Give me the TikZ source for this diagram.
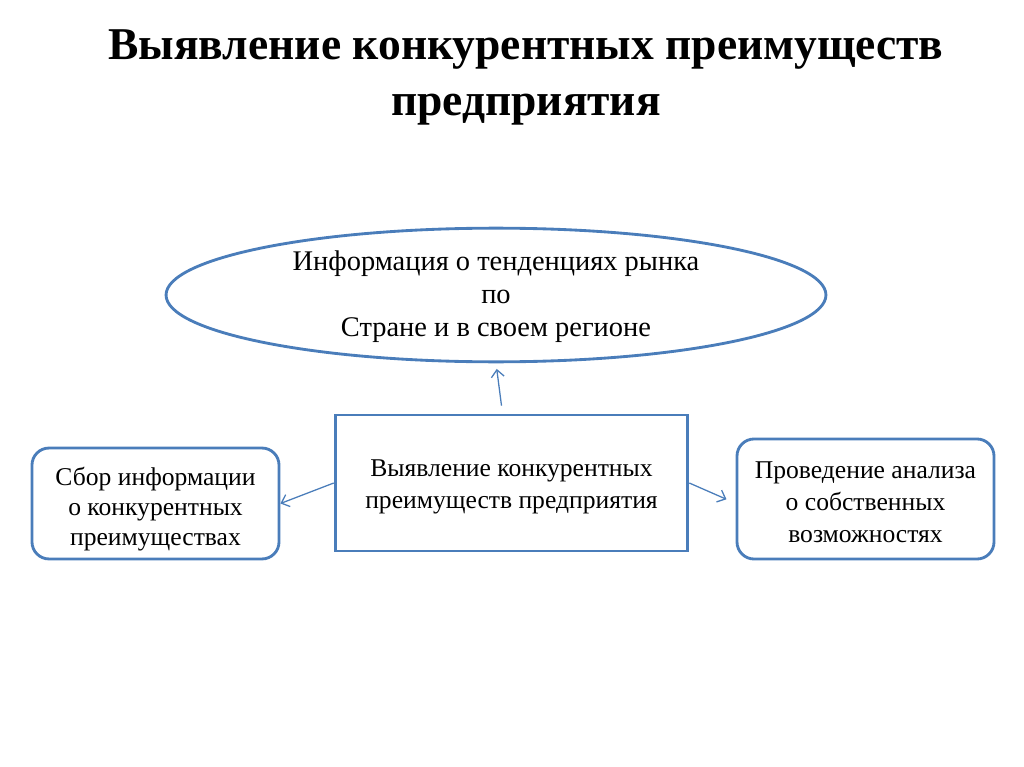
\documentclass[tikz,border=0pt]{standalone}
\usepackage{fontspec}
\setmainfont{Liberation Serif}
\usetikzlibrary{shapes.geometric,arrows.meta}
\definecolor{slideblue}{HTML}{4A7DBA}

\begin{document}
\begin{tikzpicture}[x=0.703125pt,y=-0.703125pt,
  every node/.style={inner sep=0pt,align=center,font=\fontsize{18}{22.5}\selectfont},
  headline/.style={font=\bfseries\fontsize{32}{39.4}\selectfont},
  blob/.style={draw=slideblue,line width=2pt,ellipse,minimum width=464pt,minimum height=94pt},
  mainbox/.style={draw=slideblue,line width=2pt,rectangle,minimum width=248pt,minimum height=95.6pt},
  sidebox/.style={draw=slideblue,line width=2pt,rectangle,rounded corners=12pt},
  conn/.style={draw=slideblue,line width=0.9pt,-{Straight Barb[length=5pt,width=9pt]}}]
\useasboundingbox (0,0) rectangle (1024,767);
\node[headline] (title) at (526,77.5) {Выявление конкурентных преимуществ\\предприятия};
\node[blob] (ell) at (496,295) {};
\node[font=\fontsize{20}{23.2}\selectfont] (elltext) at (496,297) {Информация о тенденциях рынка\\по\\Стране и в своем регионе};
\node[mainbox] (mid) at (511.5,483) {};
\node (midtext) at (511.5,487) {Выявление конкурентных\\преимуществ предприятия};
\node[sidebox,minimum width=173.7pt,minimum height=78pt] (left) at (155.5,503.5) {};
\node[font=\fontsize{18}{21}\selectfont] (lefttext) at (155.5,509) {Сбор информации\\о конкурентных\\преимуществах};
\node[sidebox,minimum width=180.7pt,minimum height=84.4pt] (right) at (865.5,499) {};
\node (righttext) at (865.5,502) {Проведение анализа\\о собственных\\возможностях};
\draw[conn,shorten <=5.6pt,shorten >=4pt] ([xshift=-6.3pt]mid.north) -- (ell.south);
\draw[conn] (mid.west) -- (left.east);
\draw[conn,shorten >=7pt] (mid.east) -- ([yshift=-3pt]right.west);
\end{tikzpicture}
\end{document}
